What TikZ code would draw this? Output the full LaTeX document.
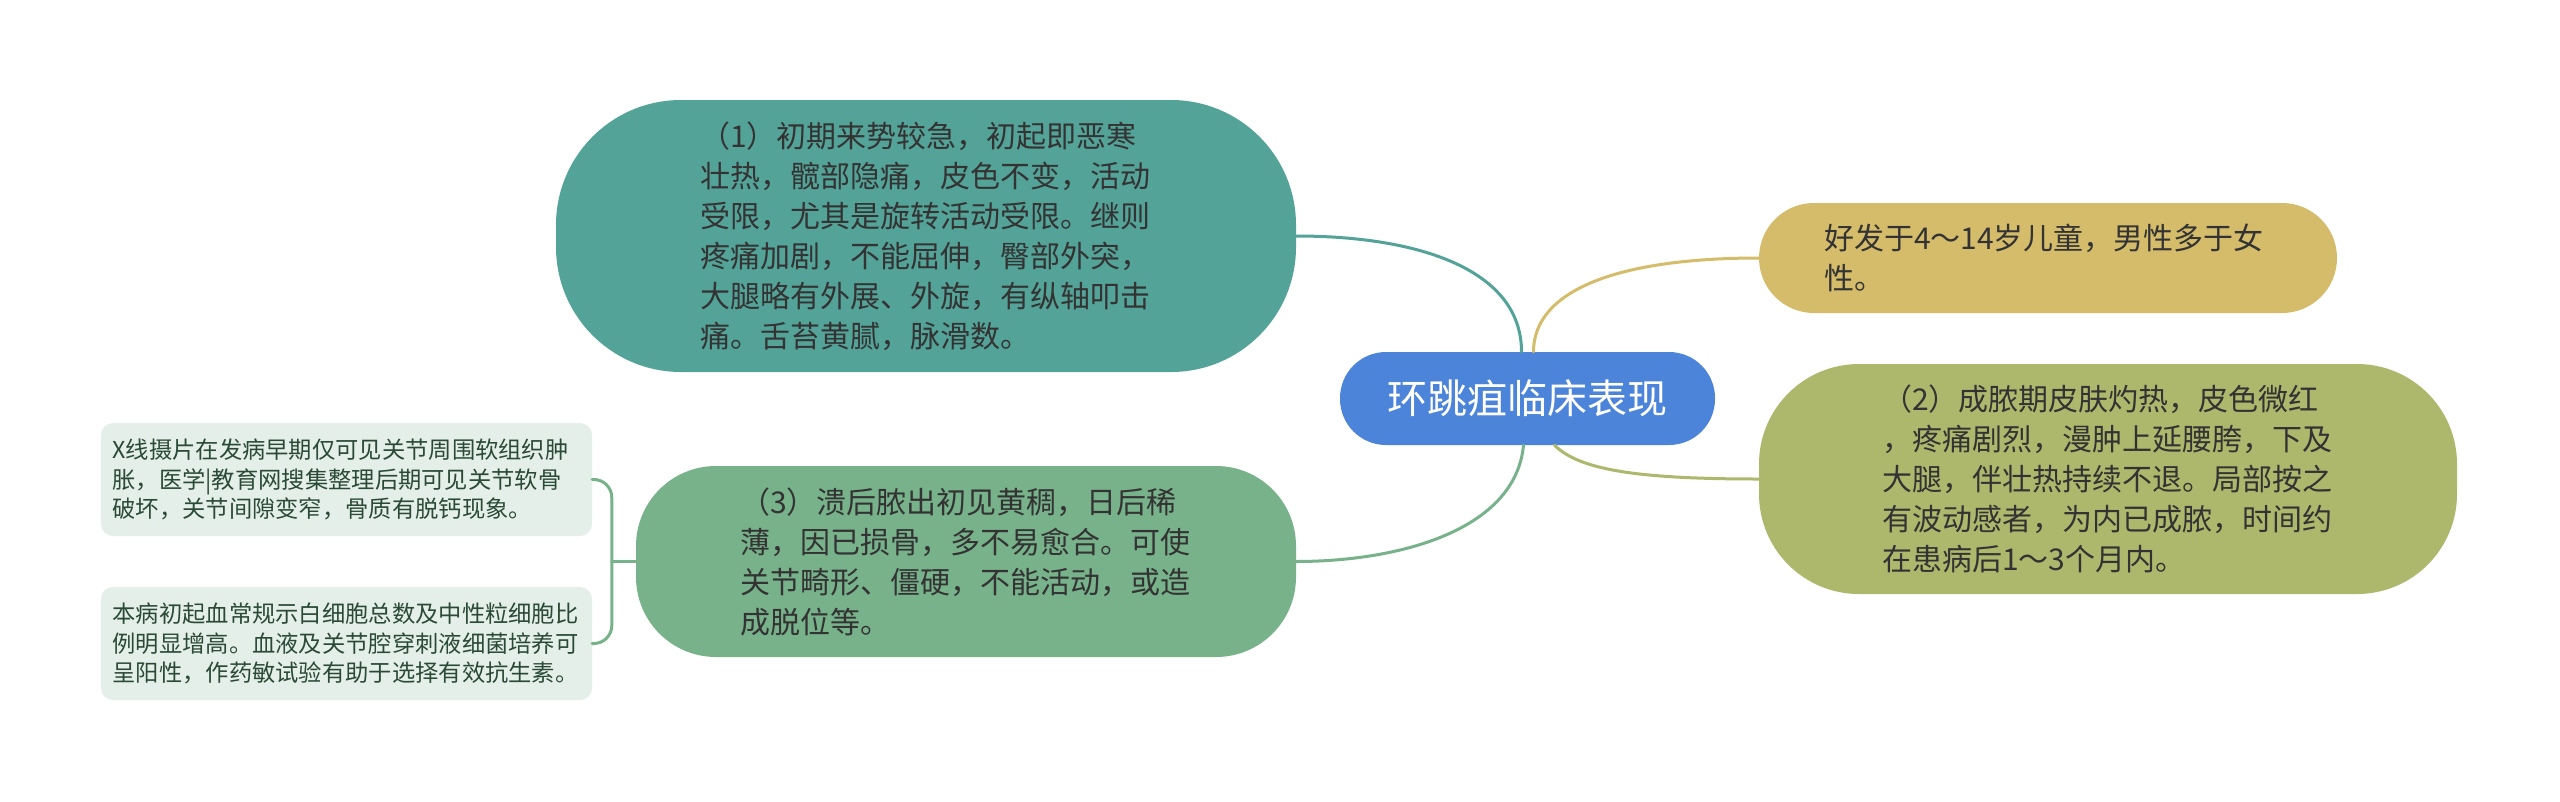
\documentclass[tikz,border=0pt]{standalone}
\usepackage{fontspec}
\setmainfont{Noto Sans CJK SC}
\usetikzlibrary{calc}
\definecolor{cTeal}{HTML}{54A398}
\definecolor{cBlue}{HTML}{4C84D9}
\definecolor{cGold}{HTML}{D4BC6B}
\definecolor{cOlive}{HTML}{AEB86C}
\definecolor{cGreen}{HTML}{78B28B}
\definecolor{cLeaf}{HTML}{E5EFE9}
\definecolor{cText}{HTML}{333333}
\definecolor{cLeafText}{HTML}{2A4A36}
\tikzset{
  bigtext/.style={font=\fontsize{30pt}{40pt}\selectfont, text=cText, align=left, inner sep=0pt},
  pill/.style={bigtext, shape=rectangle},
  leafbox/.style={shape=rectangle, fill=cLeaf, rounded corners=12pt, minimum width=491pt, minimum height=113pt,
    text width=468pt, align=left, inner sep=0pt, text=cLeafText, font=\fontsize{23.3pt}{29.5pt}\selectfont},
  conn/.style={line width=3pt, line cap=round},
}
\begin{document}
\begin{tikzpicture}[x=1pt,y=-1pt]
\fill[white] (0,0) rectangle (2560,801);
\path[use as bounding box] (0,0) rectangle (2560,801);

% centre
\node[fill=cBlue, rounded corners=46pt, minimum width=375pt, minimum height=93pt, inner sep=0pt,
      text=white, font=\fontsize{40pt}{48pt}\selectfont] (c) at (1527.5,398.5) {环跳疽临床表现};

% main branches
\node[pill, fill=cTeal, rounded corners=125pt, minimum width=740pt, minimum height=272pt, text width=452pt]
  (n1) at (926,236) {（1）初期来势较急，初起即恶寒\\壮热，髋部隐痛，皮色不变，活动\\受限，尤其是旋转活动受限。继则\\疼痛加剧，不能屈伸，臀部外突，\\大腿略有外展、外旋，有纵轴叩击\\痛。舌苔黄腻，脉滑数。};

\node[pill, fill=cGold, rounded corners=55pt, minimum width=578pt, minimum height=110pt, text width=448pt]
  (g) at (2048,258) {好发于4～14岁儿童，男性多于女\\性。};

\node[pill, fill=cOlive, rounded corners=100pt, minimum width=698pt, minimum height=230pt, text width=452pt]
  (n2) at (2108,479) {（2）成脓期皮肤灼热，皮色微红\\，疼痛剧烈，漫肿上延腰胯，下及\\大腿，伴壮热持续不退。局部按之\\有波动感者，为内已成脓，时间约\\在患病后1～3个月内。};

\node[pill, fill=cGreen, rounded corners=80pt, minimum width=660pt, minimum height=191pt, text width=452pt]
  (n3) at (966,561.5) {（3）溃后脓出初见黄稠，日后稀\\薄，因已损骨，多不易愈合。可使\\关节畸形、僵硬，不能活动，或造\\成脱位等。};

% leaves
\node[leafbox] (l1) at (346.5,479.5) {X线摄片在发病早期仅可见关节周围软组织肿\\胀，医学|教育网搜集整理后期可见关节软骨\\破坏，关节间隙变窄，骨质有脱钙现象。};
\node[leafbox] (l2) at (346.5,643.5) {本病初起血常规示白细胞总数及中性粒细胞比\\例明显增高。血液及关节腔穿刺液细菌培养可\\呈阳性，作药敏试验有助于选择有效抗生素。};

% connectors from centre
\draw[conn, cTeal] ([xshift=-6pt]c.north) .. controls +(0,-82) and +(123,0) .. (n1.east);
\draw[conn, cGold] ([xshift=6pt]c.north) .. controls +(0,-62) and +(-140,0) .. (g.west);
\draw[conn, cOlive] ([xshift=27pt]c.south) .. controls +(25,25) and +(-120,0) .. (n2.west);
\draw[conn, cGreen] ([xshift=-4pt]c.south) .. controls +(-8,85) and +(103,0) .. (n3.east);

% bracket to leaves
\coordinate (bx) at ($(n3.west)+(-24,0)$);
\draw[conn, cGreen] (n3.west) -- (bx);
\draw[conn, cGreen, rounded corners=18pt] (bx) |- (l1.east);
\draw[conn, cGreen, rounded corners=18pt] (bx) |- (l2.east);
\end{tikzpicture}
\end{document}
